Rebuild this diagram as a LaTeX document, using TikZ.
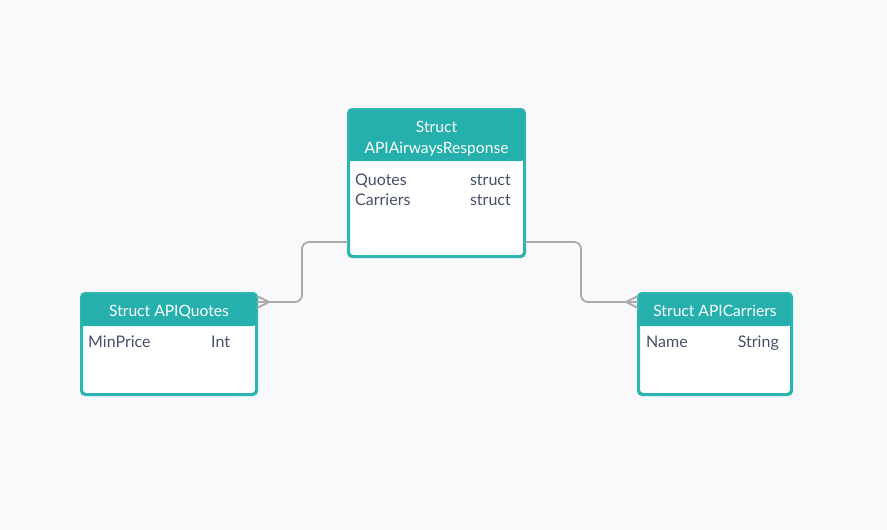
\documentclass[tikz,border=0pt]{standalone}
\usepackage{fontspec}
\setmainfont{Lato}
\definecolor{bg}{HTML}{F9F9FC}
\definecolor{tealh}{HTML}{25B0AD}
\definecolor{tealb}{HTML}{2DB6B1}
\definecolor{txt}{HTML}{465066}
\definecolor{conn}{HTML}{AAAAAA}
\begin{document}
\begin{tikzpicture}[x=1pt,y=-1pt,
  box/.style={draw=tealb, line width=2pt, fill=white, rounded corners=4pt, inner sep=0pt},
  htext/.style={text=white, font=\fontsize{15.6}{18}\selectfont, anchor=base, inner sep=0pt},
  ftext/.style={text=txt, font=\fontsize{16}{18}\selectfont, inner sep=0pt},
  connline/.style={draw=conn, line width=1.8pt},
]
\useasboundingbox[fill=bg] (0,0) rectangle (887,530);

% boxes
\node[box, minimum width=175pt, minimum height=146pt] (main) at (436.5,183) {};
\node[box, minimum width=174pt, minimum height=100pt] (qt) at (169,344) {};
\node[box, minimum width=152pt, minimum height=100pt] (cr) at (715,344) {};

% headers
\fill[tealh, rounded corners=4pt] (main.north west) -- (main.north east) -- ([yshift=-52pt]main.north east) [sharp corners] -- ([yshift=-52pt]main.north west) [rounded corners=4pt] -- cycle;
\fill[tealh, rounded corners=4pt] (qt.north west) -- (qt.north east) -- ([yshift=-33pt]qt.north east) [sharp corners] -- ([yshift=-33pt]qt.north west) [rounded corners=4pt] -- cycle;
\fill[tealh, rounded corners=4pt] (cr.north west) -- (cr.north east) -- ([yshift=-33pt]cr.north east) [sharp corners] -- ([yshift=-33pt]cr.north west) [rounded corners=4pt] -- cycle;
\draw[draw=tealb, line width=2pt, rounded corners=4pt] (main.north west) rectangle (main.south east);
\draw[draw=tealb, line width=2pt, rounded corners=4pt] (qt.north west) rectangle (qt.south east);
\draw[draw=tealb, line width=2pt, rounded corners=4pt] (cr.north west) rectangle (cr.south east);

% header texts
\node[htext] (mh1) at (436.5,132.5) {Struct};
\node[htext] (mh2) at (436.5,153.5) {APIAirwaysResponse};
\node[htext] (qh) at (169,316) {Struct APIQuotes};
\node[htext] (ch) at (715,316) {Struct APICarriers};

% fields
\node[ftext, anchor=base west] (f1) at (355,185.5) {Quotes};
\node[ftext, anchor=base east] (t1) at (511,185.5) {struct};
\node[ftext, anchor=base west] (f2) at (355,205.5) {Carriers};
\node[ftext, anchor=base east] (t2) at (511,205.5) {struct};
\node[ftext, anchor=base west] (f3) at (88,347.5) {MinPrice};
\node[ftext, anchor=base west] (t3) at (211,347.5) {Int};
\node[ftext, anchor=base west] (f4) at (646,347.5) {Name};
\node[ftext, anchor=base east] (t4) at (779,347.5) {String};

% connectors
\draw[connline, rounded corners=7pt] ([yshift=15pt]main.south west) -| (302,272) |- ([yshift=-9pt]qt.north east);
\draw[connline] ([yshift=-3pt]qt.north east) -- ([xshift=12pt,yshift=-9pt]qt.north east) -- ([yshift=-15pt]qt.north east);
\draw[connline, rounded corners=7pt] ([yshift=15pt]main.south east) -| (581,272) |- ([yshift=-9pt]cr.north west);
\draw[connline] ([yshift=-3pt]cr.north west) -- ([xshift=-12pt,yshift=-9pt]cr.north west) -- ([yshift=-15pt]cr.north west);
\end{tikzpicture}
\end{document}
